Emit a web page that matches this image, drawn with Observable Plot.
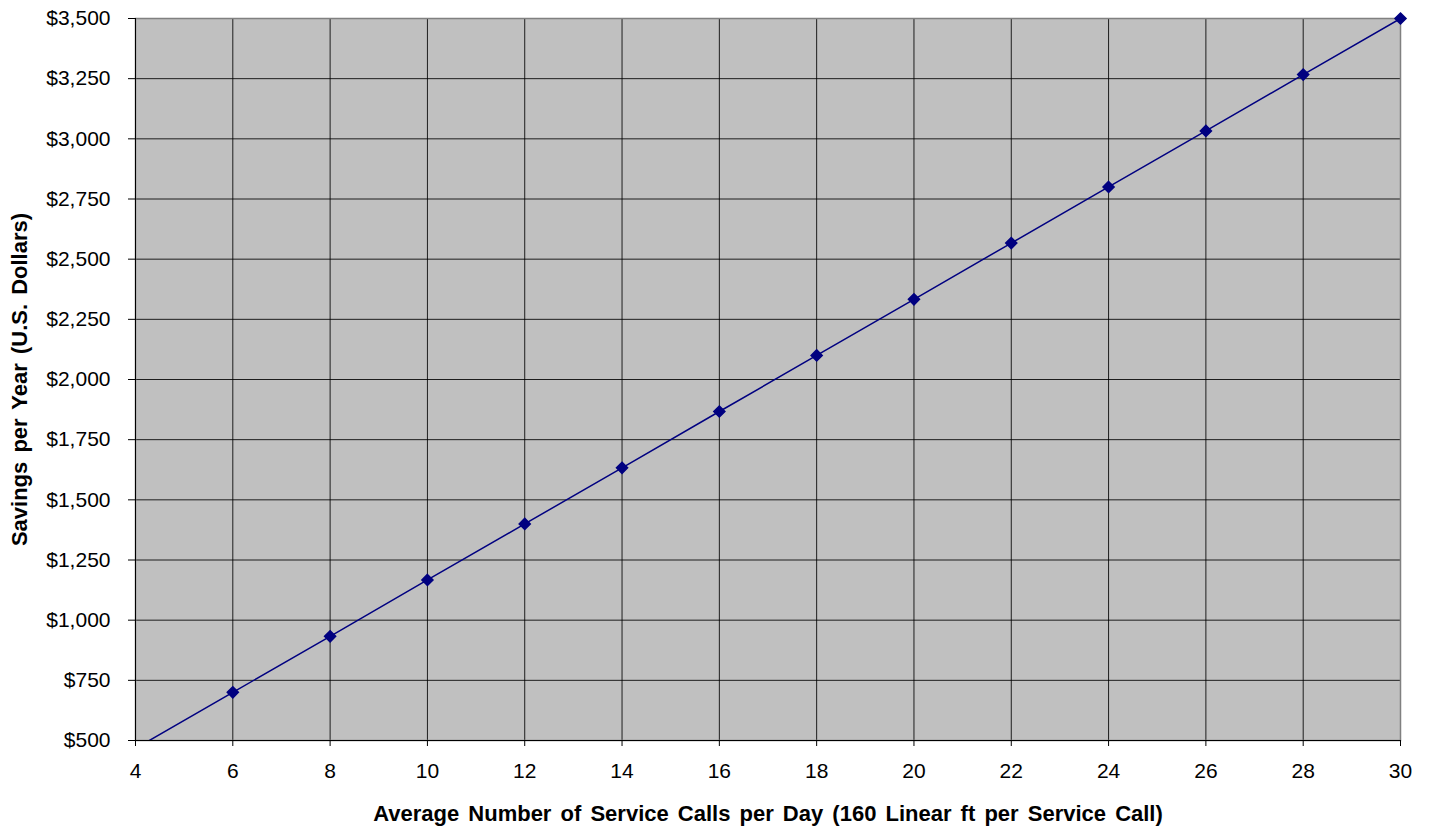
<!DOCTYPE html>
<html>
<head>
<meta charset="utf-8">
<script src="https://cdn.jsdelivr.net/npm/d3@7"></script>
<script src="https://cdn.jsdelivr.net/npm/@observablehq/plot@0.6"></script>
<style>
  html, body { margin: 0; padding: 0; background: #fff; }
  #chart svg { display: block; }
  #chart g[aria-label="x-axis label"], #chart g[aria-label="y-axis label"] {
    font-weight: bold; font-size: 22px; word-spacing: 3px;
  }
</style>
</head>
<body>
<div id="chart"></div>
<script>
// Service calls per day and the yearly savings they produce
const calls   = [4, 6, 8, 10, 12, 14, 16, 18, 20, 22, 24, 26, 28, 30];
const savings = [467, 700, 933, 1167, 1400, 1633, 1867, 2100, 2333, 2567, 2800, 3033, 3267, 3500];

// Axis extents and tick values
const xDomain = [4, 30];
const yDomain = [500, 3500];
const xTicks = [4, 6, 8, 10, 12, 14, 16, 18, 20, 22, 24, 26, 28, 30];
const yTicks = [500, 750, 1000, 1250, 1500, 1750, 2000, 2250, 2500, 2750, 3000, 3250, 3500];

const xTitle = "Average Number of Service Calls per Day (160 Linear ft per Service Call)";
const yTitle = "Savings per Year (U.S. Dollars)";

const rows = calls.map((c, i) => ({calls: c, savings: savings[i]}));

const chart = Plot.plot({
  width: 1431,
  height: 827,
  marginLeft: 135,
  marginRight: 31,
  marginTop: 18,
  marginBottom: 87,
  style: {fontFamily: "'Liberation Sans', Arial, sans-serif", fontSize: "21px", color: "#000", background: "#fff"},
  x: {domain: xDomain},
  y: {domain: yDomain},
  marks: [
    Plot.frame({fill: "#C0C0C0", stroke: "none"}),
    Plot.gridX(xTicks, {stroke: "#000", strokeOpacity: 0.85, strokeWidth: 1}),
    Plot.gridY(yTicks, {stroke: "#000", strokeOpacity: 0.85, strokeWidth: 1}),
    Plot.frame({stroke: "#808080", strokeWidth: 1.5}),
    Plot.ruleX([xDomain[0]], {stroke: "#000", strokeWidth: 1}),
    Plot.ruleY([yDomain[0]], {stroke: "#000", strokeWidth: 1}),
    Plot.axisX(xTicks, {
      tickSize: 6, tickPadding: 17, stroke: "#000", fontSize: 21,
      label: xTitle, labelAnchor: "center", labelArrow: "none", labelOffset: 80
    }),
    Plot.axisY(yTicks, {
      tickSize: 7, tickPadding: 18, stroke: "#000", fontSize: 21,
      tickFormat: d3.format("$,"),
      label: yTitle, labelAnchor: "center", labelArrow: "none", labelOffset: 124
    }),
    Plot.line(rows, {x: "calls", y: "savings", stroke: "#000080", strokeWidth: 1.5, clip: true}),
    Plot.dot(rows, {
      x: "calls", y: "savings", filter: d => d.savings >= yDomain[0],
      symbol: "diamond2", r: 5, fill: "#000080", stroke: "#000080"
    })
  ]
});

document.getElementById("chart").append(chart);
</script>
</body>
</html>
